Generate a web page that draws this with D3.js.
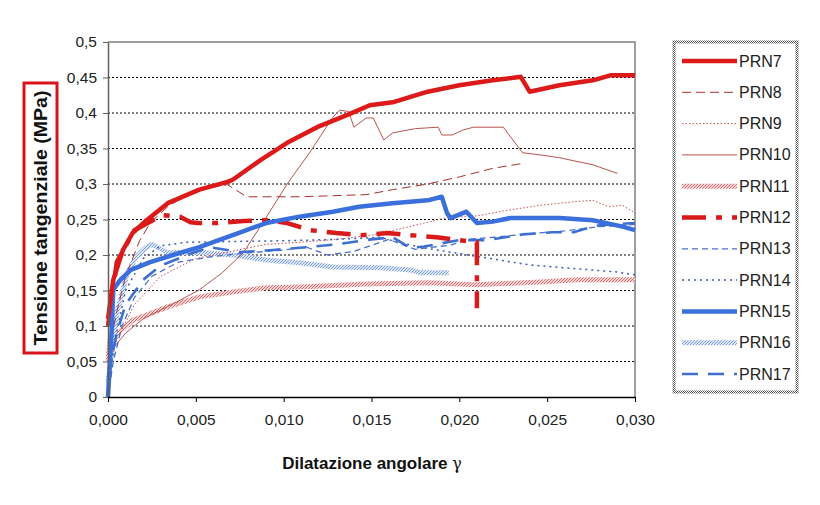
<!DOCTYPE html>
<html><head><meta charset="utf-8">
<script src="https://cdn.jsdelivr.net/npm/d3@7"></script>
<style>body{margin:0;background:#fff}svg{display:block;font-family:Arial,"Liberation Sans",sans-serif}</style>
</head><body><svg id="c" width="820" height="505"></svg>
<script>
const xTicks=[0,0.005,0.010,0.015,0.020,0.025,0.030];
const yTicks=[0,0.05,0.1,0.15,0.2,0.25,0.3,0.35,0.4,0.45,0.5];
const seriesNames=["PRN7","PRN8","PRN9","PRN10","PRN11","PRN12","PRN13","PRN14","PRN15","PRN16","PRN17"];
const PRN7=[[0,0.11],[0.0003,0.165],[0.00085,0.207],[0.0014,0.231],[0.0022,0.249],[0.0034,0.273],[0.0052,0.292],[0.0068,0.303],[0.0071,0.306],[0.0087,0.334],[0.0102,0.358],[0.0119,0.380],[0.0136,0.397],[0.0149,0.411],[0.0162,0.415],[0.0182,0.430],[0.0200,0.439],[0.0219,0.446],[0.0235,0.451],[0.0240,0.430],[0.0257,0.439],[0.0276,0.446],[0.0286,0.453],[0.0300,0.453]];
const PRN8=[[0,0.06],[0.0005,0.12],[0.001,0.17],[0.0018,0.22],[0.0024,0.245],[0.0034,0.268],[0.0043,0.282],[0.0052,0.292],[0.0068,0.299],[0.0079,0.282],[0.0109,0.282],[0.0147,0.285],[0.0162,0.292],[0.0182,0.300],[0.0200,0.310],[0.0219,0.322],[0.0236,0.329]];
const PRN9=[[0,0.04],[0.0005,0.08],[0.0015,0.13],[0.003,0.17],[0.005,0.195],[0.007,0.205],[0.009,0.215],[0.011,0.218],[0.013,0.222],[0.015,0.228],[0.0165,0.236],[0.018,0.245],[0.0195,0.254],[0.021,0.255],[0.0225,0.262],[0.0246,0.270],[0.0265,0.275],[0.0276,0.277],[0.0285,0.268],[0.0293,0.270],[0.0300,0.259]];
const PRN10=[[0,0.06],[0.001,0.09],[0.002,0.11],[0.004,0.135],[0.0052,0.151],[0.0065,0.175],[0.0077,0.203],[0.0088,0.245],[0.0102,0.300],[0.0115,0.345],[0.0128,0.394],[0.0132,0.404],[0.0137,0.402],[0.0140,0.380],[0.0147,0.393],[0.0151,0.393],[0.0157,0.362],[0.0162,0.372],[0.0175,0.378],[0.0188,0.380],[0.0190,0.369],[0.0196,0.369],[0.0202,0.376],[0.0208,0.380],[0.0225,0.380],[0.0236,0.344],[0.0246,0.341],[0.0257,0.337],[0.0276,0.327],[0.0290,0.315]];
const PRN11=[[0,0.05],[0.0001,0.08],[0.0014,0.108],[0.0034,0.127],[0.0052,0.141],[0.0071,0.148],[0.0090,0.154],[0.0109,0.155],[0.0147,0.159],[0.0182,0.161],[0.0210,0.158],[0.0246,0.162],[0.0267,0.165],[0.0300,0.165]];
const PRN12=[[0,0.10],[0.0005,0.19],[0.0015,0.235],[0.0031,0.256],[0.0041,0.254],[0.0047,0.246],[0.0051,0.245],[0.0062,0.245],[0.0077,0.248],[0.0090,0.249],[0.0102,0.245],[0.0115,0.235],[0.0130,0.231],[0.0145,0.228],[0.0159,0.231],[0.0172,0.228],[0.0187,0.225],[0.0200,0.221],[0.0210,0.218],[0.0210,0.125]];
const PRN13=[[0,0],[0.0003,0.05],[0.0008,0.10],[0.0015,0.14],[0.0025,0.17],[0.004,0.19],[0.006,0.198],[0.008,0.203],[0.010,0.207],[0.0113,0.211],[0.0125,0.200],[0.014,0.205],[0.016,0.222],[0.0167,0.215],[0.0175,0.208],[0.0185,0.211],[0.0195,0.214],[0.0205,0.222],[0.022,0.225],[0.024,0.230],[0.026,0.234],[0.028,0.240],[0.030,0.243]];
const PRN14=[[0,0],[0.0004,0.08],[0.001,0.15],[0.002,0.195],[0.003,0.213],[0.0045,0.218],[0.007,0.219],[0.010,0.220],[0.013,0.222],[0.0155,0.225],[0.0165,0.218],[0.018,0.210],[0.0195,0.204],[0.0215,0.196],[0.024,0.186],[0.026,0.182],[0.029,0.176],[0.030,0.172]];
const PRN15=[[0,0],[0.0002,0.09],[0.0003,0.151],[0.0007,0.165],[0.0013,0.179],[0.0024,0.190],[0.0037,0.200],[0.0052,0.211],[0.0071,0.228],[0.0090,0.245],[0.0109,0.254],[0.0128,0.261],[0.0143,0.268],[0.0162,0.273],[0.0182,0.277],[0.0190,0.282],[0.0193,0.259],[0.0195,0.252],[0.0204,0.261],[0.0210,0.245],[0.0219,0.247],[0.0229,0.252],[0.0257,0.252],[0.0276,0.249],[0.0293,0.240],[0.0300,0.235]];
const PRN16=[[0,0.02],[0.0002,0.06],[0.0005,0.118],[0.0011,0.175],[0.0016,0.197],[0.0022,0.211],[0.0025,0.215],[0.0034,0.203],[0.0052,0.204],[0.0071,0.200],[0.0090,0.193],[0.0109,0.189],[0.0128,0.183],[0.0155,0.182],[0.0172,0.179],[0.0178,0.175],[0.0194,0.175]];
const PRN17=[[0,0.03],[0.0005,0.09],[0.001,0.13],[0.002,0.165],[0.003,0.185],[0.0045,0.200],[0.0058,0.211],[0.0075,0.204],[0.0094,0.207],[0.0113,0.211],[0.013,0.215],[0.015,0.222],[0.0162,0.225],[0.0172,0.21],[0.018,0.212],[0.020,0.221],[0.0216,0.221],[0.0236,0.229],[0.0253,0.232],[0.0265,0.232],[0.0273,0.238],[0.0280,0.242],[0.0300,0.245]];

const styles={
 PRN7:{c:"#dd1a1a",w:4.5,d:null},
 PRN8:{c:"#a8322a",w:1,d:"9,5"},
 PRN9:{c:"#c85050",w:1,d:"1.5,2"},
 PRN10:{c:"#b85550",w:1,d:null},
 PRN11:{c:"url(#hatchR)",w:5,d:null},
 PRN12:{c:"#d81a1a",w:4.5,d:"24,10,6,10"},
 PRN13:{c:"#4a70c8",w:1.3,d:"6,4"},
 PRN14:{c:"#3a5fb8",w:1.5,d:"2,4"},
 PRN15:{c:"#3a6fdc",w:4.5,d:null},
 PRN16:{c:"url(#hatchB)",w:5,d:null},
 PRN17:{c:"#3d6fd0",w:2.6,d:"16,10"}
};
const data={PRN7,PRN8,PRN9,PRN10,PRN11,PRN12,PRN13,PRN14,PRN15,PRN16,PRN17};

const svg=d3.select("#c");
const defs=svg.append("defs");
function hatch(id,bg,fg){
 const p=defs.append("pattern").attr("id",id).attr("patternUnits","userSpaceOnUse").attr("width",3).attr("height",3);
 p.append("rect").attr("width",3).attr("height",3).attr("fill",bg);
 p.append("path").attr("d","M0,3L3,0M-1,1L1,-1M2,4L4,2").attr("stroke",fg).attr("stroke-width",1);
}
hatch("hatchR","#f6d6d6","#d76a6a");
hatch("hatchB","#dbe6f8","#7f9fd8");
const lb=defs.append("pattern").attr("id","legB").attr("patternUnits","userSpaceOnUse").attr("width",2).attr("height",2);
lb.append("rect").attr("width",2).attr("height",2).attr("fill","#fff");
lb.append("rect").attr("width",1).attr("height",1).attr("fill","#555");
lb.append("rect").attr("x",1).attr("y",1).attr("width",1).attr("height",1).attr("fill","#555");

const L=108,R=635,T=42,B=397;
const x=d3.scaleLinear().domain([0,0.030]).range([L,R]);
const y=d3.scaleLinear().domain([0,0.5]).range([B,T]);
const fmtX=d=>d3.format(".3f")(d).replace(".",",");
const fmtY=d=>(d===0?"0":String(+d.toFixed(2))).replace(".",",");

// gridlines
svg.append("g").selectAll("line").data(yTicks.filter(v=>v>0&&v<0.5)).join("line")
 .attr("x1",L).attr("x2",R).attr("y1",d=>y(d)).attr("y2",d=>y(d))
 .attr("stroke","#000").attr("stroke-width",1).attr("stroke-dasharray","2,2");
// frame top/right
svg.append("path").attr("d",`M${L},${T}H${R}V${B}`).attr("fill","none").attr("stroke","#808080").attr("stroke-width",1.5);

// lines
const line=d3.line().x(d=>x(d[0])).y(d=>y(d[1]));
const order=["PRN11","PRN16","PRN10","PRN9","PRN8","PRN14","PRN13","PRN17","PRN12","PRN15","PRN7"];
const gL=svg.append("g");
order.forEach(n=>{
 const s=styles[n];
 gL.append("path").datum(data[n]).attr("d",line).attr("fill","none")
  .attr("stroke",s.c).attr("stroke-width",s.w).attr("stroke-dasharray",s.d)
  .attr("stroke-linejoin","round");
});

// axes
const ay=svg.append("g").attr("transform",`translate(${L},0)`)
 .call(d3.axisLeft(y).tickValues(yTicks).tickFormat(fmtY).tickSize(5).tickSizeOuter(0));
ay.select(".domain").attr("stroke","#606060").attr("stroke-width",1.5);
ay.selectAll(".tick line").attr("stroke","#606060");
ay.selectAll("text").attr("font-size",15.5).attr("fill","#222").attr("x",-11).attr("font-family","Arial, Liberation Sans");
const ax=svg.append("g").attr("transform",`translate(0,${B})`)
 .call(d3.axisBottom(x).tickValues(xTicks).tickFormat(fmtX).tickSize(5).tickSizeOuter(0));
ax.select(".domain").attr("stroke","#000").attr("stroke-width",1.5);
ax.selectAll("text").attr("font-size",15.5).attr("fill","#222").attr("y",17).attr("font-family","Arial, Liberation Sans");

// axis titles
const xt=svg.append("text").attr("x",372).attr("y",469).attr("text-anchor","middle").attr("font-size",17).attr("font-weight","bold").attr("fill","#111");
xt.append("tspan").text("Dilatazione angolare ");
xt.append("tspan").attr("font-family","DejaVu Serif").attr("font-weight","normal").attr("font-size",16).text("γ");
svg.append("rect").attr("x",24).attr("y",83).attr("width",33).attr("height",270).attr("fill","none").attr("stroke","#d8141a").attr("stroke-width",3);
svg.append("text").attr("transform","translate(47,218) rotate(-90)").attr("text-anchor","middle").attr("font-size",18).attr("font-weight","bold").attr("fill","#111")
 .attr("textLength",255).attr("lengthAdjust","spacingAndGlyphs")
 .text("Tensione tangenziale (MPa)");

// legend
svg.append("rect").attr("x",674).attr("y",42).attr("width",123).attr("height",350).attr("fill","#fff").attr("stroke","url(#legB)").attr("stroke-width",3);
const lg=svg.append("g");
seriesNames.forEach((n,i)=>{
 const yy=61+i*31.3, s=styles[n];
 lg.append("line").attr("x1",682).attr("x2",737).attr("y1",yy).attr("y2",yy)
  .attr("stroke",s.c).attr("stroke-width",s.w).attr("stroke-dasharray",s.d);
 lg.append("text").attr("x",739).attr("y",yy+5.5).attr("font-size",16).attr("fill","#222").text(n);
});
</script></body></html>
